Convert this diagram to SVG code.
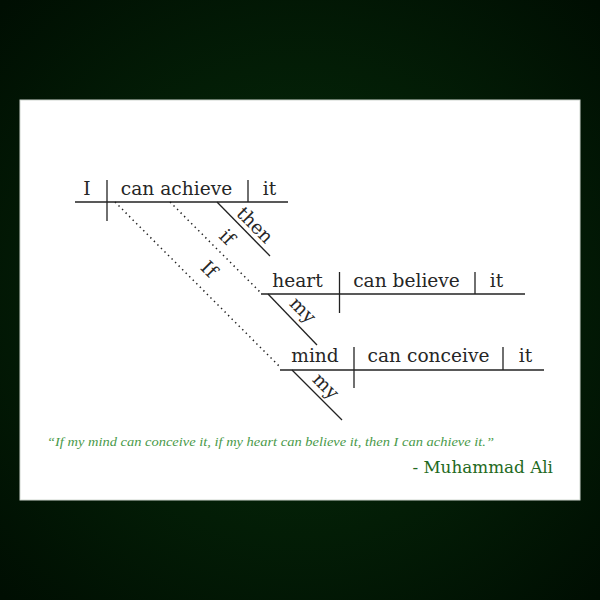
<svg xmlns="http://www.w3.org/2000/svg" width="600" height="600" viewBox="0 0 600 600">
<defs>
<radialGradient id="bg" cx="300" cy="300" r="420" gradientUnits="userSpaceOnUse">
<stop offset="0" stop-color="#07300b"/>
<stop offset="1" stop-color="#000e02"/>
</radialGradient>
<style>
.ln{stroke:#222;stroke-width:1.3;fill:none}
.dot{stroke:#222;stroke-width:1.5;fill:none;stroke-dasharray:1.4 3.6}
.wm{font-family:"DejaVu Serif","Liberation Serif",serif;font-size:18.6px;fill:#262626;text-anchor:middle}
.q{font-family:"Liberation Serif","DejaVu Serif",serif;font-style:italic;font-size:13px;fill:#4a9a4a}
.a{font-family:"DejaVu Serif","Liberation Serif",serif;font-size:16.8px;fill:#1f6a22}
</style>
</defs>
<rect width="600" height="600" fill="url(#bg)"/>
<rect x="20" y="100" width="560" height="400" fill="#fff" stroke="#cfd6cf" stroke-width="1"/>

<g id="clause-main">
<line class="ln" x1="75" y1="202" x2="288" y2="202"/>
<line class="ln" x1="107" y1="180" x2="107" y2="221"/>
<line class="ln" x1="248" y1="180" x2="248" y2="202"/>
<text class="wm" x="87" y="195">I</text>
<text class="wm" x="176.5" y="195">can achieve</text>
<text class="wm" x="269.5" y="195">it</text>
</g>
<g id="mod-then">
<line class="ln" x1="217" y1="202" x2="270" y2="256"/>
<text class="wm" transform="translate(250.5 229.5) rotate(45)">then</text>
</g>

<g id="clause-heart">
<line class="ln" x1="261" y1="294" x2="525" y2="294"/>
<line class="ln" x1="339.5" y1="272" x2="339.5" y2="313"/>
<line class="ln" x1="475" y1="272" x2="475" y2="294"/>
<text class="wm" x="297.5" y="287">heart</text>
<text class="wm" x="406.5" y="287">can believe</text>
<text class="wm" x="496.5" y="287">it</text>
</g>
<g id="mod-my-heart">
<line class="ln" x1="268" y1="294" x2="317" y2="345"/>
<text class="wm" transform="translate(298.5 314.5) rotate(45)">my</text>
</g>

<g id="clause-mind">
<line class="ln" x1="280" y1="370" x2="544" y2="370"/>
<line class="ln" x1="354" y1="347" x2="354" y2="388"/>
<line class="ln" x1="503" y1="347" x2="503" y2="370"/>
<text class="wm" x="315" y="362">mind</text>
<text class="wm" x="428.5" y="362">can conceive</text>
<text class="wm" x="525.5" y="362">it</text>
</g>
<g id="mod-my-mind">
<line class="ln" x1="292" y1="370" x2="342" y2="420"/>
<text class="wm" transform="translate(321.5 390.5) rotate(45)">my</text>
</g>

<g id="connectors">
<line class="dot" x1="170" y1="202" x2="261" y2="293"/>
<line class="dot" x1="115" y1="202" x2="281" y2="368"/>
<text class="wm" transform="translate(222.5 241.5) rotate(45)">if</text>
<text class="wm" transform="translate(204.5 273.5) rotate(45)">If</text>
</g>

<g id="quote">
<text class="q" x="47" y="446" textLength="447" lengthAdjust="spacingAndGlyphs">“If my mind can conceive it, if my heart can believe it, then I can achieve it.”</text>
<text class="a" x="553" y="473" text-anchor="end">- Muhammad Ali</text>
</g>
</svg>
